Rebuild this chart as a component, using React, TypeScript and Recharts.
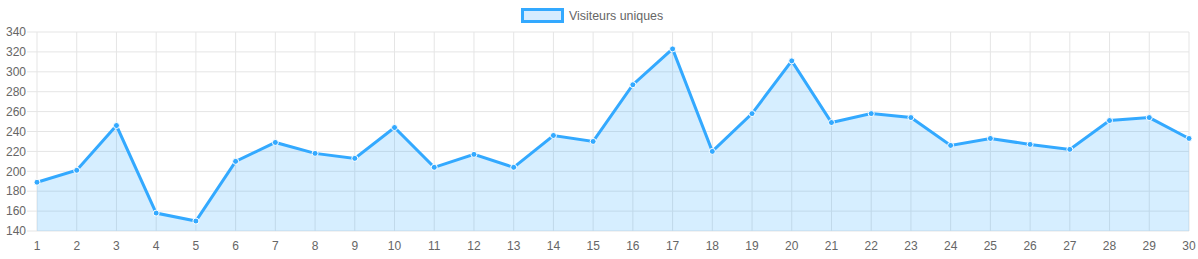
import { AreaChart, Area, XAxis, YAxis, CartesianGrid, Legend } from "recharts";

const days = [
  "1", "2", "3", "4", "5", "6", "7", "8", "9", "10",
  "11", "12", "13", "14", "15", "16", "17", "18", "19", "20",
  "21", "22", "23", "24", "25", "26", "27", "28", "29", "30",
];
const visitors = [
  189, 201, 246, 158, 150, 210, 229, 218, 213, 244,
  204, 217, 204, 236, 230, 287, 323, 220, 258, 311,
  249, 258, 254, 226, 233, 227, 222, 251, 254, 233,
];
const yTicks = [140, 160, 180, 200, 220, 240, 260, 280, 300, 320, 340];

const seriesName = "Visiteurs uniques";
const blue = "#33a9ff";
const grid = "#e5e5e5";
const font = "'Liberation Sans', Arial, Helvetica, sans-serif";

const data = days.map((day, i) => ({ day, visitors: visitors[i] }));

function TopLegend() {
  return (
    <div
      style={{
        position: "absolute",
        left: 521,
        top: 8,
        display: "flex",
        alignItems: "center",
        fontFamily: font,
        fontSize: 12.4,
        color: "#666",
      }}
    >
      <span
        style={{
          display: "inline-block",
          width: 37,
          height: 9,
          border: `3px solid ${blue}`,
          background: "#d6ecff",
          marginRight: 5,
        }}
      />
      <span>{seriesName}</span>
    </div>
  );
}

export default function App() {
  return (
    <div style={{ position: "relative", width: 1198, height: 259, background: "#fff" }}>
      <style>{"body{margin:0}"}</style>
      <AreaChart
        width={1198}
        height={259}
        data={data}
        margin={{ top: 32, right: 9, bottom: 0, left: 0 }}
      >
        <CartesianGrid stroke={grid} strokeWidth={1} />
        <XAxis
          dataKey="day"
          height={28}
          axisLine={false}
          tickLine={false}
          tickSize={8}
          tickMargin={2}
          interval={0}
          tick={{ fill: "#666", fontSize: 12, fontFamily: font }}
        />
        <YAxis
          width={37}
          domain={[140, 340]}
          ticks={yTicks}
          interval={0}
          axisLine={false}
          tickSize={10}
          tickMargin={1}
          tickLine={{ stroke: grid }}
          tick={{ fill: "#666", fontSize: 12, fontFamily: font }}
        />
        <Legend content={() => null} />
        <Area
          type="linear"
          dataKey="visitors"
          name={seriesName}
          stroke={blue}
          strokeWidth={3}
          fill={blue}
          fillOpacity={0.2}
          dot={{ r: 3, fill: blue, stroke: "#fff", strokeWidth: 1, fillOpacity: 1 }}
          activeDot={false}
          isAnimationActive={false}
        />
      </AreaChart>
      <TopLegend />
    </div>
  );
}
